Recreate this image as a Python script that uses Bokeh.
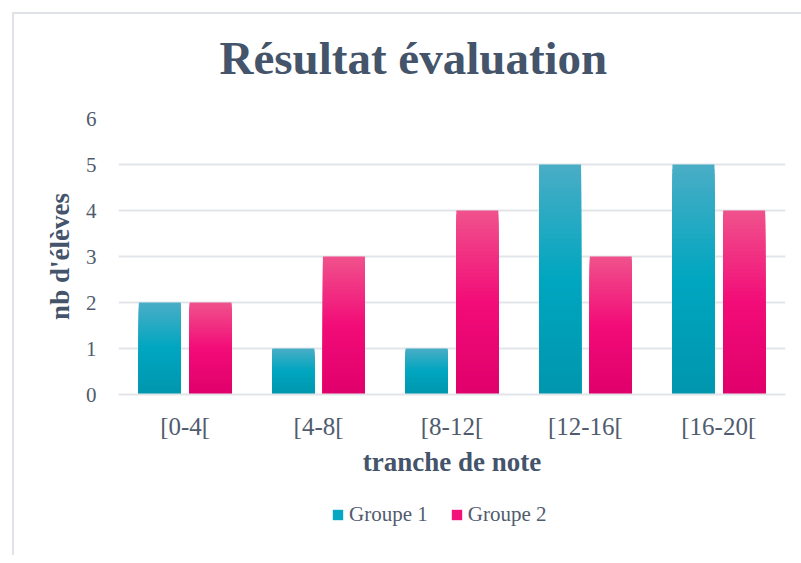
from bokeh.plotting import figure
from bokeh.layouts import column
from bokeh.models import (FactorRange, Range1d, ColumnDataSource, Legend, LegendItem,
                          FixedTicker, Label)
from bokeh.transform import dodge
from bokeh.embed import file_html
from bokeh.resources import INLINE

# ---- data ----
title_text = "Résultat évaluation"
categories = ["[0-4[", "[4-8[", "[8-12[", "[12-16[", "[16-20["]
groupe1 = [2, 1, 1, 5, 5]
groupe2 = [2, 3, 4, 3, 4]
series_names = ["Groupe 1", "Groupe 2"]
y_ticks = [0, 1, 2, 3, 4, 5, 6]

FONT = "Liberation Serif"
TXT = "#44546A"
TICK = "#505c6e"
GRID = "#e1e5ea"
FRAME = "2px solid #dfe3e8"

# gradient stops (bottom, middle, top)
grad_blue = ["#0096ae", "#00a6c0", "#4aadc6"]
grad_pink = ["#e0006b", "#f20c78", "#f0528c"]


def hex2rgb(h):
    h = h.lstrip("#")
    return [int(h[i:i + 2], 16) for i in (0, 2, 4)]


def grad(stops, t):
    a, b, c = [hex2rgb(s) for s in stops]
    if t <= 0.5:
        u = t / 0.5
        p0, p1 = a, b
    else:
        u = (t - 0.5) / 0.5
        p0, p1 = b, c
    rgb = [round(p0[k] + (p1[k] - p0[k]) * u) for k in range(3)]
    return "#%02x%02x%02x" % tuple(rgb)


K = 50


def slices(values, stops):
    cat, top, bottom, color = [], [], [], []
    for i in range(K - 1, -1, -1):
        for c, v in zip(categories, values):
            cat.append(c)
            top.append(v * (i + 1) / K)
            bottom.append(0)
            color.append(grad(stops, (i + 0.5) / K))
    return ColumnDataSource(dict(cat=cat, top=top, bottom=bottom, color=color))


def strip(height, styles):
    f = figure(width=789, height=height, x_range=Range1d(0, 1), y_range=Range1d(0, 1),
               x_axis_type=None, y_axis_type=None, output_backend="svg",
               toolbar_location=None, min_border=0)
    f.title = None
    f.styles = styles
    f.grid.grid_line_color = None
    f.outline_line_color = None
    return f


# ---------------- title strip ----------------
pt = strip(88, {"border-top": FRAME, "border-left": FRAME, "box-sizing": "border-box"})
pt.add_layout(Label(x=101, y=45, x_units="screen", y_units="screen", text=title_text,
                    text_align="left", text_baseline="alphabetic", text_font=FONT,
                    text_font_style="bold", text_font_size="47px", text_color=TXT))

# ---------------- main chart ----------------
p = figure(x_range=FactorRange(*categories), y_range=Range1d(0, 6),
           width=789, height=393, output_backend="svg", toolbar_location=None,
           min_border_left=104, min_border_right=18, min_border_top=18,
           min_border_bottom=99)
p.title = None
p.styles = {"border-left": FRAME, "box-sizing": "border-box"}
p.outline_line_color = None
p.background_fill_color = "white"
p.border_fill_color = "white"

p.x_range.range_padding = 0
p.xgrid.grid_line_color = None
p.ygrid.grid_line_color = GRID
p.ygrid.grid_line_width = 2
p.yaxis.ticker = FixedTicker(ticks=y_ticks)

for ax in (p.xaxis[0], p.yaxis[0]):
    ax.major_tick_line_color = None
    ax.minor_tick_line_color = None
    ax.major_label_text_font = FONT
    ax.major_label_text_color = TICK
    ax.axis_label_text_font = FONT
    ax.axis_label_text_font_style = "bold"
    ax.axis_label_text_color = TXT
    ax.axis_label_text_font_size = "27px"

p.yaxis.axis_line_color = None
p.yaxis.major_label_text_font_size = "21px"
p.yaxis.major_label_standoff = 16
p.yaxis.axis_label = "nb d'élèves"
p.yaxis.axis_label_standoff = 8

p.xaxis.axis_line_color = GRID
p.xaxis.axis_line_width = 2
p.xaxis.major_label_text_font_size = "25px"
p.xaxis.major_label_standoff = 12
p.xaxis.axis_label = "tranche de note"
p.xaxis.axis_label_standoff = 4

for vals, stops, off in ((groupe1, grad_blue, -0.19), (groupe2, grad_pink, 0.19)):
    src = slices(vals, stops)
    p.vbar(x=dodge("cat", off, range=p.x_range), top="top", bottom="bottom",
           width=0.315, source=src, fill_color="color", line_color=None)

# ---------------- legend strip ----------------
pl = strip(62, {"border-left": FRAME, "box-sizing": "border-box"})

leg_renderers = []
for stops in (grad_blue, grad_pink):
    r = pl.vbar(x=[5], top=[0], bottom=[0], width=0.1,
                fill_color=grad(stops, 0.55), line_color=None)
    leg_renderers.append(r)

legend = Legend(items=[LegendItem(label=n, renderers=[r])
                       for n, r in zip(series_names, leg_renderers)],
                orientation="horizontal", location=(213, 28))
legend.label_text_font = FONT
legend.label_text_font_size = "21px"
legend.label_text_color = TICK
legend.glyph_width = 13
legend.glyph_height = 13
legend.label_standoff = 5
legend.spacing = 22
legend.padding = 0
legend.margin = 0
legend.border_line_color = None
legend.background_fill_alpha = 0
pl.add_layout(legend)

layout = column(pt, p, pl, spacing=0)
layout.margin = (12, 0, 0, 12)

open("out.html", "w").write(file_html(layout, INLINE))
